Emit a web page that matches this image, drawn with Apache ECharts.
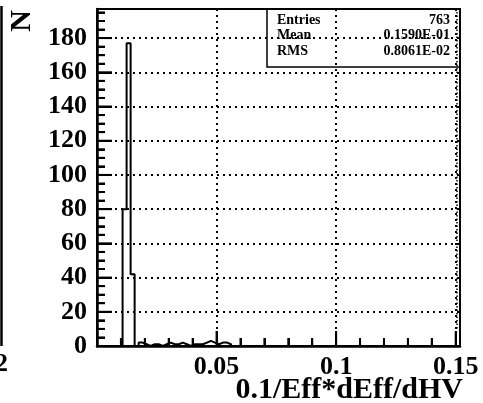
<!DOCTYPE html>
<html><head><meta charset="utf-8">
<script src="https://cdn.jsdelivr.net/npm/echarts@6/dist/echarts.min.js"></script>
<style>html,body{margin:0;padding:0;background:#fff}#c{width:483px;height:403px}</style>
</head><body><div id="c"></div>
<script>
// Histogram definition
const binStart = 0.0107;
const binWidth = 0.00168;
const counts = [80,177,42,0,2,1,0,1,1,0,1,2,1,1,2,1,0,1,1,1,2,3,2,1,2,2,1];
// Axis / labels
const xTickLabels = ['0.05','0.1','0.15'];
const xMajorStep = 0.05, xMinorStep = 0.01;
const yMajorStep = 20, yMinorStep = 5;
const xTitle = '0.1/Eff*dEff/dHV';
const yTitle = 'N';
// Stats box
const statsLabels = ['Entries','Mean','RMS'];
const statsValues = ['763','0.1590E-01','0.8061E-02'];

const FONT = 'Liberation Serif';
const xMax = 0.1518, yMax = 197;
const pts = [[binStart, 0]];
counts.forEach((c, i) => {
  const lo = binStart + i * binWidth, hi = lo + binWidth;
  pts.push([lo, c], [hi, c]);
});
pts.push([binStart + counts.length * binWidth, 0]);

// tick marks (axis 0 = x, 1 = y), major/minor
const ticks = [];
for (let k = 0; k * xMinorStep <= xMax + 1e-9; k++) ticks.push([0, k * xMinorStep, k % 5 === 0 ? 1 : 0]);
for (let k = 0; k * yMinorStep <= yMax; k++) ticks.push([1, k * yMinorStep, k % 4 === 0 ? 1 : 0]);

const chart = echarts.init(document.getElementById('c'));
const statsRows = [20, 35, 51];
const graphics = [
  {type: 'line', shape: {x1: 1.5, y1: 6, x2: 1.5, y2: 346}, style: {stroke: '#000', lineWidth: 2.5}},
  {type: 'text', style: {text: '2', x: 8, y: 364, align: 'right', verticalAlign: 'middle', font: 'bold 26px "' + FONT + '"', fill: '#000'}},
  {type: 'text', x: 22, y: 21, rotation: Math.PI / 2, style: {text: yTitle, align: 'center', verticalAlign: 'middle', font: 'bold 30px "' + FONT + '"', fill: '#000'}},
  {type: 'text', style: {text: xTitle, x: 463, y: 390, align: 'right', verticalAlign: 'middle', font: 'bold 30px "' + FONT + '"', fill: '#000'}},
  {type: 'line', shape: {x1: 457, y1: 12, x2: 457, y2: 330}, style: {stroke: '#000', lineWidth: 1.5, lineDash: [1.5, 2]}},
  {type: 'rect', shape: {x: 267, y: 9, width: 193, height: 58}, style: {stroke: '#000', lineWidth: 1.5, fill: 'rgba(0,0,0,0)'}}
];
statsLabels.forEach((t, i) => {
  graphics.push({type: 'text', style: {text: t, x: 277, y: statsRows[i], align: 'left', verticalAlign: 'middle', font: 'bold 14px "' + FONT + '"', fill: '#000'}});
  graphics.push({type: 'text', style: {text: statsValues[i], x: 450, y: statsRows[i], align: 'right', verticalAlign: 'middle', font: 'bold 14px "' + FONT + '"', fill: '#000'}});
});

const fmtX = v => {
  const s = (Math.round(v * 1000) / 1000).toString();
  return xTickLabels.includes(s) ? s : '';
};
chart.setOption({
  animation: false,
  grid: {left: 97, top: 9, right: 23, bottom: 57, show: true, borderColor: '#000', borderWidth: 2},
  xAxis: {
    type: 'value', min: 0, max: xMax, interval: xMajorStep,
    axisLine: {show: true, lineStyle: {color: '#000', width: 2.5}},
    axisTick: {show: true, inside: true, length: 15, lineStyle: {color: '#000', width: 2}},
    minorTick: {show: true, splitNumber: 5, length: 8, lineStyle: {color: '#000', width: 2}},
    axisLabel: {showMinLabel: false, showMaxLabel: false, margin: 8, formatter: fmtX, color: '#000', fontFamily: FONT, fontWeight: 'bold', fontSize: 26},
    splitLine: {show: true, lineStyle: {color: '#000', width: 2, type: [2, 4]}}
  },
  yAxis: {
    type: 'value', min: 0, max: yMax, interval: yMajorStep,
    axisLine: {show: true, lineStyle: {color: '#000', width: 2.5}},
    axisTick: {show: true, inside: true, length: 15, lineStyle: {color: '#000', width: 2}},
    minorTick: {show: true, splitNumber: 4, length: 8, lineStyle: {color: '#000', width: 2}},
    axisLabel: {showMaxLabel: false, margin: 10, color: '#000', fontFamily: FONT, fontWeight: 'bold', fontSize: 26},
    splitLine: {show: true, lineStyle: {color: '#000', width: 2, type: [2, 4]}}
  },
  series: [{
    type: 'line', data: pts, showSymbol: false, symbol: 'none',
    lineStyle: {color: '#000', width: 2}, z: 5
  }, {
    type: 'custom', data: ticks, clip: false, silent: true, z: 6,
    encode: {x: 1, y: 1},
    renderItem: (params, api) => {
      const ax = api.value(0), v = api.value(1), major = api.value(2);
      const len = major ? 15 : 8;
      if (ax === 0) {
        const p = api.coord([v, 0]);
        return {type: 'line', shape: {x1: p[0], y1: p[1], x2: p[0], y2: p[1] - len}, style: {stroke: '#000', lineWidth: 2}};
      }
      const p = api.coord([0, v]);
      return {type: 'line', shape: {x1: p[0], y1: p[1], x2: p[0] + len, y2: p[1]}, style: {stroke: '#000', lineWidth: 2}};
    }
  }],
  graphic: graphics
});
</script></body></html>
